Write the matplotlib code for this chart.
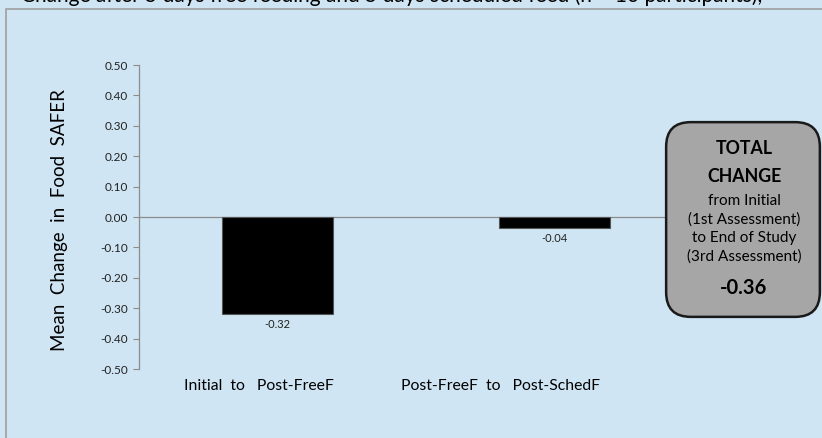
import matplotlib.pyplot as plt
from matplotlib.patches import FancyBboxPatch, Rectangle
from matplotlib.transforms import ScaledTranslation

plt.rcParams['font.family'] = ['Lato', 'DejaVu Sans']

categories = ["Initial  to   Post-FreeF", "Post-FreeF  to   Post-SchedF"]
mean_change = [-0.32, -0.036]
total_change = -0.36
y_ticks = [-0.50, -0.40, -0.30, -0.20, -0.10, 0.00, 0.10, 0.20, 0.30, 0.40, 0.50]
title = "Change after 5 days free feeding and 5 days scheduled feed (n = 10 participants),"

bg = '#cfe5f3'
axis_gray = '#8c8c8c'

fig = plt.figure(figsize=(8.22, 4.38), dpi=100)
fig.patch.set_facecolor(bg)

# outer chart frame (runs off the right and bottom edge)
frame = Rectangle((6 / 822, -0.05), 1.0, 1 - 9 / 438 + 0.05, transform=fig.transFigure,
                  facecolor=bg, edgecolor='#a0a0a0', linewidth=1.2, zorder=-5)
fig.patches.append(frame)

# title mostly cut off at the top, as in the source
fig.text(0.025, 1 - 2 / 438, title, fontsize=15, ha='left', va='baseline', color='black')

ax = fig.add_axes([139 / 822, 1 - 369 / 438, 554 / 822, 304 / 438])
ax.set_facecolor('none')

x = list(range(len(categories)))
bars = ax.bar(x, mean_change, width=0.4, color='black', edgecolor='#555555', linewidth=0.8, zorder=3)

for b, v in zip(bars, mean_change):
    ax.text(b.get_x() + b.get_width() / 2, v - 0.015, f'{v:.2f}', ha='center', va='top',
            fontsize=8, color='#222222')

ax.set_xlim(-0.5, len(categories) - 0.5)
ax.set_ylim(-0.5, 0.5)
ax.set_yticks(y_ticks)
ax.set_yticklabels([f'{t:.2f}' for t in y_ticks], fontsize=8.5, color='#222222')
ax.tick_params(axis='y', direction='out', length=4, width=0.8, color=axis_gray, pad=4)

ax.spines['top'].set_visible(False)
ax.spines['right'].set_visible(False)
ax.spines['left'].set_color(axis_gray)
ax.spines['left'].set_linewidth(0.9)
ax.spines['bottom'].set_position(('data', 0))
ax.spines['bottom'].set_color(axis_gray)
ax.spines['bottom'].set_linewidth(0.9)
ax.set_xticks([])

# category labels sit below the plot area, slightly left of each bar
shifts = [-19, -54]
for i, (lab, s) in enumerate(zip(categories, shifts)):
    tr = ax.get_xaxis_transform() + ScaledTranslation(s / 100, 0, fig.dpi_scale_trans)
    ax.text(i, -0.055, lab, transform=tr, ha='center', va='center', fontsize=11.3, color='black')

fig.text(60 / 822, 1 - 220 / 438, "Mean  Change  in  Food  SAFER", rotation=90,
         ha='center', va='center', fontsize=13.5, color='black')

# total change call-out box
box = FancyBboxPatch((676 / 822, 1 - 307 / 438), 134 / 822, 175 / 438,
                     boxstyle='round,pad=0.012,rounding_size=0.03', transform=fig.transFigure,
                     facecolor='#a6a6a6', edgecolor='#1a1a1a', linewidth=1.8, zorder=5,
                     mutation_aspect=822 / 438)
fig.patches.append(box)

cx = 744 / 822
fig.text(cx, 1 - 149 / 438, "TOTAL", ha='center', va='center', fontsize=12.8, fontweight='bold', zorder=6)
fig.text(cx, 1 - 176 / 438, "CHANGE", ha='center', va='center', fontsize=12.8, fontweight='bold', zorder=6)
small = ["from Initial", "(1st Assessment)", "to End of Study", "(3rd Assessment)"]
for yy, s in zip([201, 220, 238, 257], small):
    fig.text(cx, 1 - yy / 438, s, ha='center', va='center', fontsize=11, zorder=6)
fig.text(cx, 1 - 288 / 438, f'{total_change:.2f}', ha='center', va='center', fontsize=14.5,
         fontweight='bold', zorder=6)

fig.savefig('out.png', dpi=100, facecolor=bg)
